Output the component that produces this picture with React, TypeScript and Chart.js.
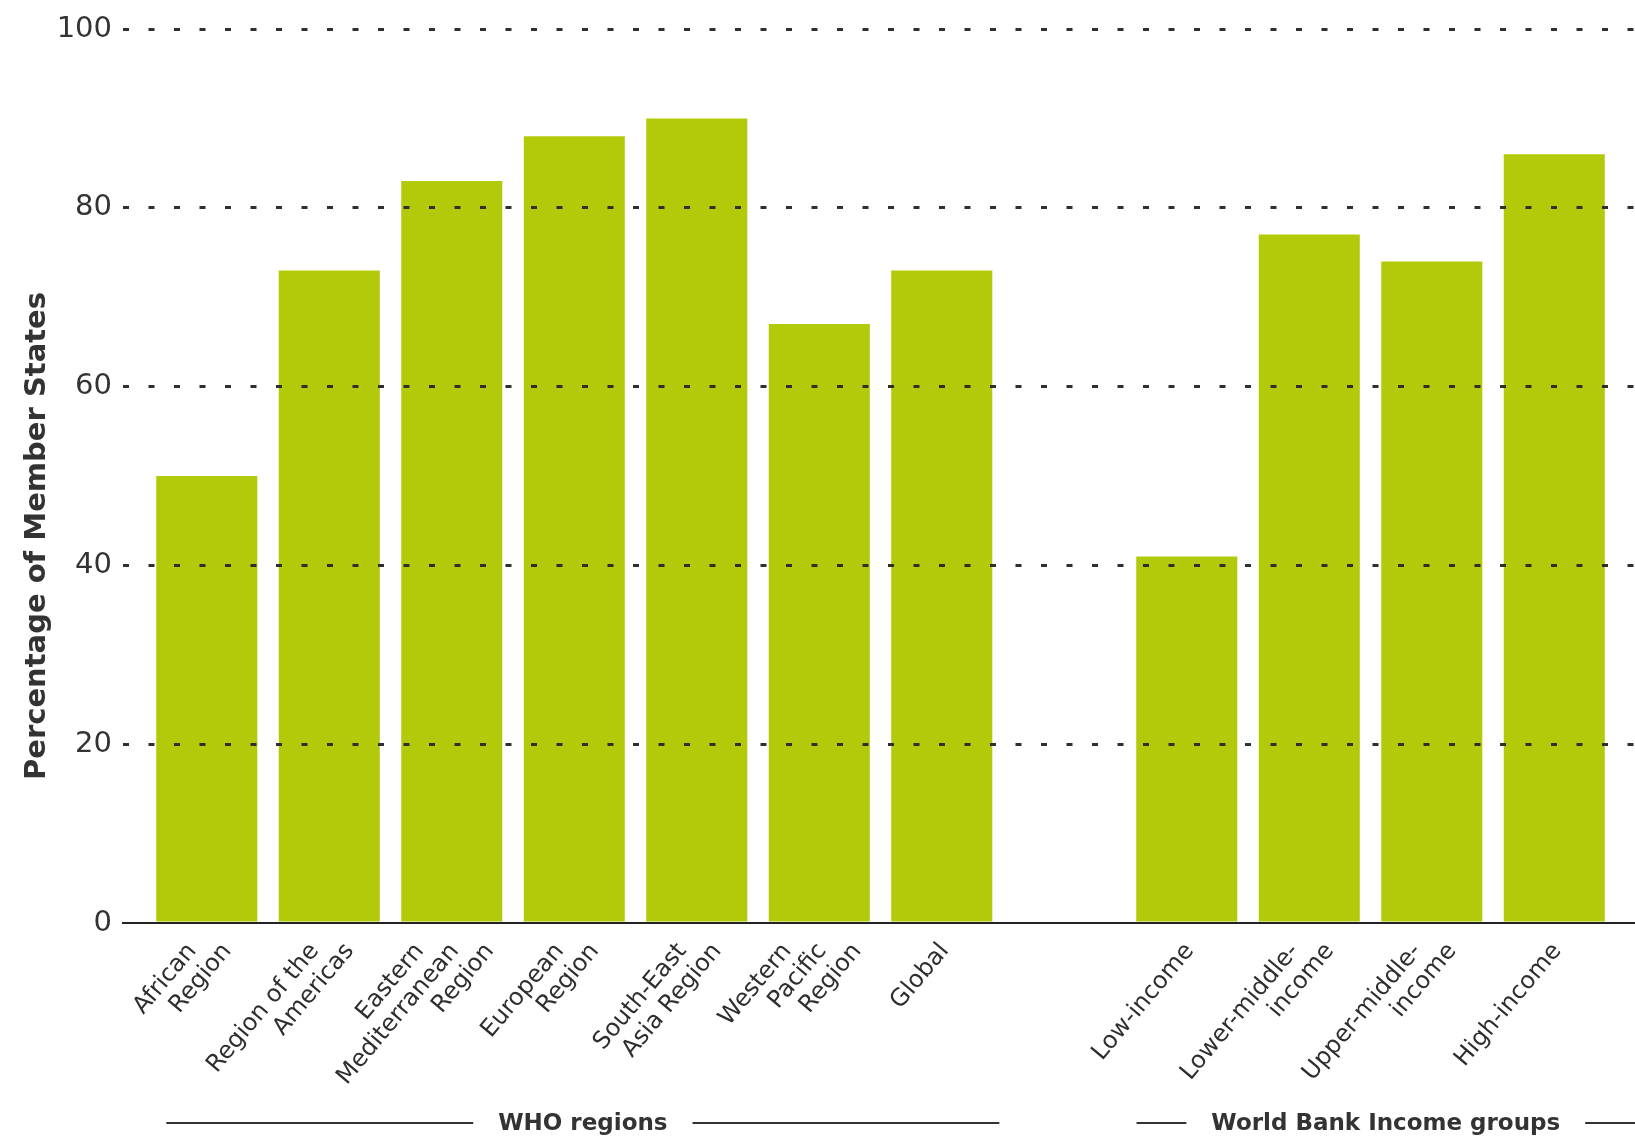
import { useEffect, useRef } from 'react';
import { Chart, registerables } from 'chart.js';

Chart.register(...registerables);

// ---------- data ----------
const categories: string[] = [
  'African\nRegion',
  'Region of the\nAmericas',
  'Eastern\nMediterranean\nRegion',
  'European\nRegion',
  'South-East\nAsia Region',
  'Western\nPacific\nRegion',
  'Global',
  '',
  'Low-income',
  'Lower-middle-\nincome',
  'Upper-middle-\nincome',
  'High-income',
];
const values: (number | null)[] = [50, 73, 83, 88, 90, 67, 73, null, 41, 77, 74, 86];
const yTickValues: number[] = [0, 20, 40, 60, 80, 100];
const yAxisTitle = 'Percentage of Member States';
const groupNames: string[] = ['WHO regions', 'World Bank Income groups'];

// ---------- layout / style ----------
const W = 1635;
const H = 1136;
const BAR_COLOR = '#b3ca0b';
const TEXT_COLOR = '#333333';
const GROUP_SPANS: [number, number][] = [
  [-0.33, 6.47],
  [7.59, 11.7],
];
const LABEL_ANGLE = 50;
const LABEL_STEP = 35;
const LABEL_SHIFT = 3;
const LABEL_DROP = 24;

const overlayPlugin = {
  id: 'overlayText',
  afterDraw(chart: any) {
    const { ctx, chartArea, scales } = chart;
    const xs = scales.x;
    const axisY = chartArea.bottom;
    ctx.save();

    // category labels
    ctx.fillStyle = '#2e2e2e';
    ctx.font = '24px "DejaVu Sans"';
    ctx.textAlign = 'right';
    ctx.textBaseline = 'middle';
    categories.forEach((cat, i) => {
      if (!cat) return;
      const lines = cat.split('\n');
      const cx = xs.getPixelForValue(i);
      lines.forEach((line, k) => {
        const ex = cx + LABEL_SHIFT + (k - (lines.length - 1) / 2) * LABEL_STEP;
        ctx.save();
        ctx.translate(ex, axisY + LABEL_DROP);
        ctx.rotate((-LABEL_ANGLE * Math.PI) / 180);
        ctx.fillText(line, 0, 0);
        ctx.restore();
      });
    });

    // y-axis title
    ctx.save();
    ctx.fillStyle = TEXT_COLOR;
    ctx.font = 'bold 29px "DejaVu Sans"';
    ctx.textAlign = 'center';
    ctx.textBaseline = 'middle';
    ctx.translate(37, 536);
    ctx.rotate(-Math.PI / 2);
    ctx.fillText(yAxisTitle, 0, 0);
    ctx.restore();

    // group labels
    const lineY = axisY + 200;
    ctx.font = 'bold 23px "DejaVu Sans"';
    ctx.textAlign = 'center';
    ctx.textBaseline = 'alphabetic';
    ctx.fillStyle = TEXT_COLOR;
    ctx.strokeStyle = TEXT_COLOR;
    ctx.lineWidth = 2;
    groupNames.forEach((name, g) => {
      const x0 = xs.getPixelForValue(GROUP_SPANS[g][0]);
      const x1 = Math.min(xs.getPixelForValue(GROUP_SPANS[g][1]), chart.width);
      const mid = (x0 + x1) / 2;
      const tw = ctx.measureText(name).width;
      ctx.fillText(name, mid, lineY + 7);
      const gap = 25;
      ctx.beginPath();
      ctx.moveTo(x0, lineY);
      ctx.lineTo(mid - tw / 2 - gap, lineY);
      ctx.moveTo(mid + tw / 2 + gap, lineY);
      ctx.lineTo(x1, lineY);
      ctx.stroke();
    });

    ctx.restore();
  },
};

export default function App() {
  const canvasRef = useRef<HTMLCanvasElement | null>(null);

  useEffect(() => {
    if (!canvasRef.current) return;
    const points = values
      .map((v, i) => (v === null ? null : { x: i, y: v }))
      .filter((p) => p !== null);

    const chart = new Chart(canvasRef.current, {
      type: 'bar',
      data: {
        datasets: [
          {
            data: points as any,
            backgroundColor: BAR_COLOR,
            borderWidth: 0,
            categoryPercentage: 1,
            barPercentage: 0.825,
          },
        ],
      },
      options: {
        responsive: false,
        animation: false,
        devicePixelRatio: 1,
        layout: { padding: { top: 29, left: 0, right: 0, bottom: 0 } },
        plugins: {
          legend: { display: false },
          tooltip: { enabled: false },
          title: { display: false },
        },
        scales: {
          x: {
            type: 'linear',
            min: -0.684,
            max: 11.659,
            offset: false,
            afterBuildTicks: (scale: any) => {
              scale.ticks = categories.map((_, i) => ({ value: i }));
            },
            grid: { display: false, drawTicks: false, offset: false },
            border: { display: true, color: '#222222', width: 2, z: 2 },
            ticks: { display: false },
            afterFit: (scale: any) => {
              scale.height = 213;
            },
          },
          y: {
            min: 0,
            max: 100,
            afterBuildTicks: (scale: any) => {
              scale.ticks = yTickValues.map((v) => ({ value: v }));
            },
            grid: {
              z: 1,
              drawTicks: false,
              lineWidth: 3,
              color: (c: any) => (c.tick && c.tick.value === 0 ? 'rgba(0,0,0,0)' : '#2f2f2f'),
            },
            border: { display: false, dash: [6, 19.5] },
            ticks: {
              padding: 11,
              color: TEXT_COLOR,
              font: { family: '"DejaVu Sans"', size: 29 },
            },
            afterFit: (scale: any) => {
              scale.width = 123;
            },
          },
        },
      },
      plugins: [overlayPlugin],
    });
    return () => chart.destroy();
  }, []);

  return (
    <div style={{ position: 'absolute', left: 0, top: 0, width: W, height: H, background: '#fff' }}>
      <canvas ref={canvasRef} width={W} height={H} style={{ display: 'block', width: W, height: H }} />
    </div>
  );
}
